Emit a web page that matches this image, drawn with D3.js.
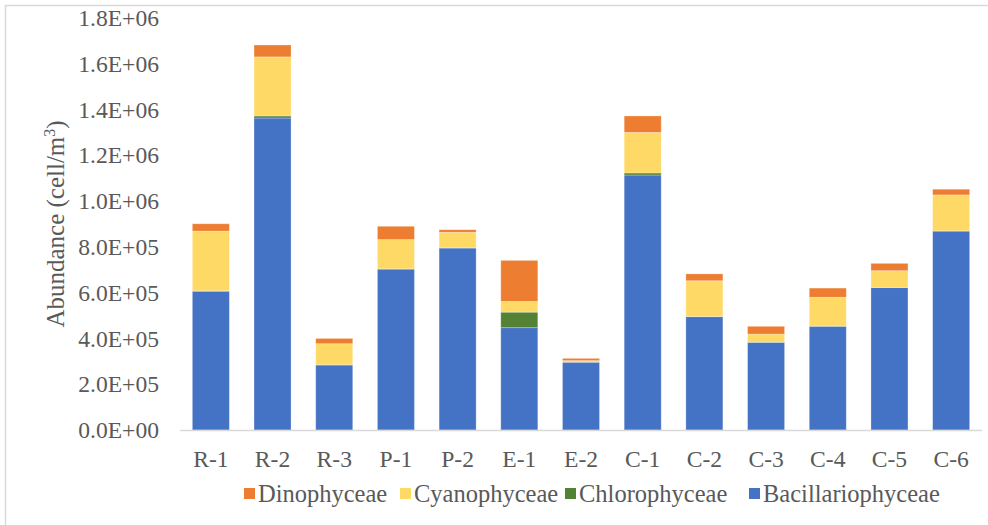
<!DOCTYPE html>
<html>
<head>
<meta charset="utf-8">
<script src="https://cdn.jsdelivr.net/npm/d3@7"></script>
<style>
  html, body { margin: 0; padding: 0; background: #fff; }
  svg { display: block; }
  text { font-family: "Liberation Serif", "Times New Roman", serif; fill: #595959; }
</style>
</head>
<body>
<svg id="chart" width="988" height="525"></svg>
<script>
const categories = ["R-1","R-2","R-3","P-1","P-2","E-1","E-2","C-1","C-2","C-3","C-4","C-5","C-6"];
const bacillariophyceae = [606000,1363000,284000,703000,795000,447000,296000,1114000,495000,383000,453000,622000,869000];
const chlorophyceae     = [2000,9000,1000,1000,1000,68000,1000,9000,1000,1000,1000,1000,1000];
const cyanophyceae      = [261000,258000,92000,128000,68000,47000,6000,177000,156000,35000,126000,73000,157000];
const dinophyceae       = [32000,52000,23000,58000,11000,179000,10000,72000,30000,34000,40000,32000,25000];
const seriesNames = ["Bacillariophyceae","Chlorophyceae","Cyanophyceae","Dinophyceae"];
const legendOrder = ["Dinophyceae","Cyanophyceae","Chlorophyceae","Bacillariophyceae"];
const yTicks = [0,200000,400000,600000,800000,1000000,1200000,1400000,1600000,1800000];
const yTickLabels = ["0.0E+00","2.0E+05","4.0E+05","6.0E+05","8.0E+05","1.0E+06","1.2E+06","1.4E+06","1.6E+06","1.8E+06"];

const colors = {
  Bacillariophyceae: "#4472C4",
  Chlorophyceae: "#548235",
  Cyanophyceae: "#FFD966",
  Dinophyceae: "#ED7D31"
};

const seriesData = {
  Bacillariophyceae: bacillariophyceae,
  Chlorophyceae: chlorophyceae,
  Cyanophyceae: cyanophyceae,
  Dinophyceae: dinophyceae
};

const rows = categories.map((c, i) => {
  const r = { cat: c };
  seriesNames.forEach(s => r[s] = seriesData[s][i]);
  return r;
});

const FONT = "'Liberation Serif', 'Times New Roman', serif";
const svg = d3.select("#chart");

// outer chart border
svg.append("rect").attr("x", 5.5).attr("y", 5.5).attr("width", 990).attr("height", 530)
  .attr("fill", "none").attr("stroke", "#d9d9d9").attr("stroke-width", 1.5);

const plot = { left: 180, right: 982, top: 18, bottom: 430 };

const x = d3.scaleBand().domain(categories).range([plot.left, plot.right]).paddingInner(0.4).paddingOuter(0.2);
const y = d3.scaleLinear().domain([0, 1800000]).range([plot.bottom, plot.top]);

const stacked = d3.stack().keys(seriesNames)(rows);

svg.append("g").selectAll("g.layer").data(stacked).join("g")
  .attr("class", "layer")
  .attr("fill", d => colors[d.key])
  .selectAll("rect").data(d => d).join("rect")
  .attr("x", d => x(d.data.cat))
  .attr("width", x.bandwidth())
  .attr("y", d => y(d[1]))
  .attr("height", d => Math.max(0, y(d[0]) - y(d[1])))
  .attr("stroke", "#ffffff").attr("stroke-opacity", 0.35).attr("stroke-width", 0.8);

// x axis baseline
svg.append("line").attr("x1", plot.left).attr("x2", plot.right)
  .attr("y1", y(0) + 0.5).attr("y2", y(0) + 0.5)
  .attr("stroke", "#d9d9d9").attr("stroke-width", 1.5);

// y axis (labels only)
const yAxis = d3.axisLeft(y).tickValues(yTicks).tickSize(0).tickPadding(0)
  .tickFormat((d, i) => yTickLabels[i]);
const ya = svg.append("g").attr("transform", `translate(159,0)`).call(yAxis);
ya.select(".domain").remove();
ya.selectAll("text").style("font-size", "23.6px").attr("fill", "#595959").style("font-family", FONT);

// x axis labels
const xAxis = d3.axisBottom(x).tickSize(0).tickPadding(0);
const xa = svg.append("g").attr("transform", `translate(0,${plot.bottom + 20})`).call(xAxis);
xa.select(".domain").remove();
xa.selectAll("text").style("font-size", "23.6px").attr("fill", "#595959").style("font-family", FONT);

// y axis title
const title = svg.append("text")
  .attr("transform", `translate(64,${(plot.top + plot.bottom) / 2}) rotate(-90)`)
  .attr("text-anchor", "middle")
  .style("font-family", FONT)
  .style("font-size", "25px");
title.append("tspan").text("Abundance (cell/m");
title.append("tspan").text("3").attr("dy", -9).style("font-size", "16px");
title.append("tspan").text(")").attr("dy", 9);

// legend
const legendX = [244, 400, 565, 749];
const lg = svg.append("g");
legendOrder.forEach((name, i) => {
  const item = lg.append("g").attr("transform", `translate(${legendX[i]},494)`);
  item.append("rect").attr("x", 0).attr("y", -6).attr("width", 11).attr("height", 11).attr("fill", colors[name]);
  item.append("text").attr("x", 14).attr("y", 8)
    .style("font-family", FONT).style("font-size", "24.5px").attr("fill", "#595959").text(name);
});
</script>
</body>
</html>
